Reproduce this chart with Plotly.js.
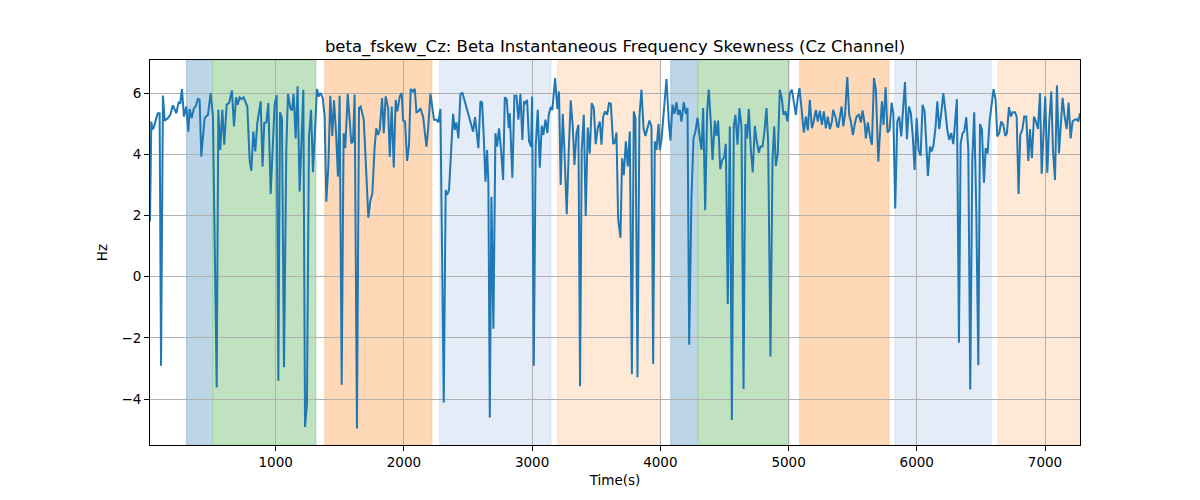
<!DOCTYPE html>
<html>
<head>
<meta charset="utf-8">
<script src="https://cdn.plot.ly/plotly-3.0.1.min.js"></script>
<style>
  html, body { margin: 0; padding: 0; background: #fff; }
  #chart { width: 1200px; height: 500px; }
</style>
</head>
<body>
<div id="chart"></div>
<script>
// time (s) of each sample
var timeS = [
  20, 30, 38, 48, 69, 82, 95, 106, 121, 134, 160, 178, 199, 225, 243, 256, 269, 285, 303, 319,
  329, 345, 363, 376, 394, 407, 420, 446, 472, 493, 511, 540, 553, 568, 584, 599, 618, 636, 659, 675,
  691, 704, 719, 735, 750, 779, 797, 810, 826, 841, 857, 883, 898, 911, 927, 943, 961, 979, 992, 1008,
  1021, 1034, 1049, 1065, 1083, 1096, 1114, 1127, 1140, 1156, 1171, 1187, 1216, 1229, 1244, 1260, 1276, 1291, 1307, 1322,
  1335, 1351, 1367, 1382, 1395, 1411, 1426, 1442, 1455, 1471, 1486, 1499, 1515, 1530, 1543, 1562, 1577, 1590, 1603, 1616,
  1634, 1650, 1663, 1687, 1708, 1723, 1739, 1754, 1772, 1785, 1799, 1812, 1830, 1843, 1858, 1877, 1890, 1905, 1921, 1936,
  1949, 1968, 1983, 1994, 2009, 2025, 2040, 2053, 2072, 2085, 2098, 2113, 2129, 2150, 2176, 2189, 2207, 2222, 2235, 2254,
  2269, 2285, 2311, 2326, 2337, 2352, 2365, 2384, 2397, 2410, 2425, 2441, 2456, 2472, 2488, 2503, 2521, 2540, 2555, 2571,
  2581, 2597, 2610, 2623, 2636, 2649, 2659, 2670, 2683, 2698, 2714, 2727, 2742, 2758, 2774, 2787, 2802, 2818, 2826, 2846,
  2862, 2878, 2893, 2909, 2924, 2937, 2950, 2961, 2976, 2992, 3000, 3013, 3028, 3044, 3060, 3075, 3088, 3104, 3119, 3130,
  3145, 3158, 3179, 3197, 3210, 3223, 3239, 3252, 3270, 3286, 3301, 3317, 3330, 3346, 3361, 3374, 3387, 3403, 3418, 3434,
  3450, 3465, 3481, 3496, 3512, 3528, 3541, 3554, 3569, 3585, 3600, 3614, 3632, 3645, 3658, 3671, 3689, 3702, 3715, 3731,
  3746, 3762, 3778, 3793, 3806, 3822, 3837, 3853, 3869, 3884, 3900, 3915, 3931, 3944, 3957, 3970, 3986, 3996, 4009, 4022,
  4048, 4066, 4079, 4095, 4110, 4126, 4139, 4152, 4165, 4183, 4199, 4212, 4225, 4243, 4259, 4274, 4290, 4308, 4321, 4334,
  4350, 4365, 4378, 4394, 4407, 4425, 4438, 4451, 4467, 4482, 4498, 4511, 4526, 4542, 4558, 4573, 4586, 4602, 4617, 4633,
  4649, 4664, 4677, 4690, 4706, 4721, 4737, 4750, 4768, 4781, 4797, 4812, 4828, 4841, 4859, 4875, 4888, 4901, 4916, 4932,
  4948, 4961, 4976, 4992, 5010, 5026, 5041, 5057, 5072, 5085, 5101, 5119, 5135, 5150, 5166, 5182, 5197, 5213, 5228, 5244,
  5260, 5275, 5291, 5306, 5322, 5338, 5348, 5369, 5379, 5388, 5401, 5414, 5427, 5440, 5458, 5473, 5486, 5502, 5518, 5531,
  5549, 5564, 5577, 5593, 5603, 5619, 5635, 5650, 5666, 5681, 5700, 5715, 5728, 5741, 5757, 5772, 5788, 5804, 5817, 5832,
  5848, 5863, 5879, 5892, 5908, 5923, 5939, 5954, 5970, 5983, 5999, 6014, 6030, 6045, 6061, 6074, 6087, 6103, 6116, 6131,
  6147, 6160, 6175, 6191, 6207, 6222, 6238, 6253, 6269, 6285, 6298, 6313, 6329, 6342, 6357, 6370, 6386, 6402, 6417, 6433,
  6448, 6464, 6480, 6493, 6508, 6524, 6537, 6552, 6568, 6584, 6599, 6615, 6628, 6643, 6659, 6675, 6690, 6703, 6719, 6734,
  6747, 6766, 6779, 6794, 6807, 6823, 6838, 6854, 6870, 6883, 6898, 6914, 6929, 6945, 6961, 6974, 6989, 7002, 7018, 7033,
  7049, 7062, 7078, 7093, 7109, 7124, 7137, 7153, 7169, 7184, 7200, 7215, 7231, 7247, 7260, 7273
];

// beta instantaneous frequency skewness (Hz)
var fskewHz = [
  1.80, 5.07, 4.82, 4.85, 5.18, 5.34, 5.34, -2.91, 5.92, 5.10, 5.18, 5.29, 5.60, 5.34, 5.69, 5.67, 6.13, 5.23, 5.56, 4.74,
  5.48, 5.18, 5.51, 5.56, 5.81, 5.78, 3.92, 5.18, 5.29, 6.00, 5.23, -3.62, 5.45, 4.14, 5.45, 4.31, 5.62, 5.67, 6.08, 4.91,
  5.86, 5.62, 5.86, 5.80, 5.86, 5.56, 3.81, 3.46, 4.74, 4.09, 5.02, 5.73, 3.60, 5.02, 5.04, 5.67, 2.70, 4.58, 5.62, 5.93,
  -3.40, 5.37, 5.18, -2.96, 4.14, 5.97, 5.51, 5.43, 5.97, 4.52, 6.22, 2.78, 6.11, -4.91, -4.16, 4.58, 5.45, 3.41, 4.69, 6.13,
  5.89, 6.00, 5.84, 5.23, 2.45, 3.60, 5.91, 4.60, 5.76, 4.69, 3.27, 5.91, -3.53, 4.69, 4.20, 5.97, 5.13, 4.36, 4.42, 5.95,
  -4.96, 5.51, 5.56, 5.13, 3.27, 1.93, 2.50, 2.72, 4.25, 4.85, 4.63, 4.80, 5.84, 4.69, 5.89, 5.51, 3.92, 5.56, 3.57, 5.78,
  5.40, 5.89, 6.00, 5.10, 5.07, 3.78, 4.31, 6.13, 6.05, 6.14, 5.37, 5.40, 5.50, 5.23, 4.25, 4.80, 5.98, 5.45, 5.13, 5.13,
  5.04, 5.48, -4.11, 2.83, 2.67, 2.83, 4.03, 5.32, 4.80, 5.04, 4.52, 5.95, 6.02, 5.78, 5.45, 5.29, 5.02, 4.74, 5.21, 4.69,
  4.20, 5.73, 5.69, 4.58, 3.10, 4.14, 3.05, -4.60, 2.61, -1.70, 4.69, 4.25, 4.85, 4.14, 3.16, 5.86, 5.80, 4.85, 5.34, 3.23,
  5.91, 5.91, 5.13, 5.97, 4.47, 5.73, 5.67, 5.78, 4.42, 4.25, 5.89, -2.91, 4.25, 5.45, 3.56, 4.93, 4.63, 5.13, 4.69, 5.29,
  5.54, 5.45, 6.49, 5.48, 6.05, 3.00, 5.32, 4.14, 2.04, 4.14, 5.76, 4.91, 3.65, 4.69, 4.96, -3.58, 4.14, 5.29, 1.98, 4.87,
  4.03, 5.67, 5.51, 4.33, 4.85, 5.07, 4.31, 5.23, 5.40, 5.29, 5.67, 5.65, 4.34, 4.38, 4.71, 1.90, 1.27, 3.87, 3.32, 4.42,
  3.60, 4.74, -3.18, 5.40, 5.18, -3.29, 5.23, 6.11, 4.85, 4.60, 4.85, 5.10, 4.91, -2.85, 4.42, 4.14, 4.99, 4.14, 4.47, 5.18,
  6.46, 5.07, 4.45, 5.62, 5.32, 5.70, 5.29, 5.45, 5.07, 5.70, 5.32, 5.51, -2.22, 2.61, 4.52, 4.74, 5.20, 4.52, 4.14, 5.51,
  2.17, 5.40, 6.11, 5.02, 3.81, 5.10, 4.60, 5.10, 3.51, 3.81, 3.90, 4.34, -0.89, 4.91, -4.68, 4.91, 5.29, 4.31, 5.51, 4.91,
  -3.67, 4.99, 4.52, 5.48, 4.14, 3.41, 4.93, 4.47, 4.05, 4.25, 4.25, 4.74, 5.51, 4.36, -2.61, 3.81, 4.91, 3.62, 4.03, 6.11,
  5.80, 5.29, 5.40, 5.07, 6.00, 6.11, 5.73, 5.29, 5.84, 6.16, 5.51, 4.71, 5.23, 4.78, 5.78, 4.85, 5.09, 5.45, 5.07, 5.42,
  4.96, 5.40, 4.85, 5.23, 4.82, 5.07, 5.45, 5.18, 4.91, 4.89, 5.23, 5.56, 4.91, 5.29, 6.52, 5.29, 5.07, 4.63, 5.02, 5.23,
  5.29, 5.04, 5.43, 5.02, 4.52, 5.04, 4.58, 4.31, 6.49, 6.11, 3.76, 4.69, 5.73, 4.96, 6.19, 4.71, 4.80, 5.69, 5.34, 2.23,
  5.07, 5.23, 4.58, 5.40, 6.36, 4.49, 5.56, 5.34, 4.52, 3.49, 5.18, 4.14, 3.95, 5.62, 5.40, 4.36, 3.29, 4.25, 4.09, 4.31,
  4.91, 5.73, 4.82, 5.34, 6.00, 5.45, 4.80, 4.47, 4.69, 4.33, 5.13, 5.80, -2.16, 4.36, 4.69, 4.74, 5.21, 4.14, -3.69, 3.81,
  5.37, 2.17, -2.89, 4.99, 4.80, 3.07, 4.20, 4.03, 5.09, 5.62, 6.13, 5.78, 4.58, 4.69, 5.07, 4.96, 4.60, 4.69, 5.54, 5.23,
  5.37, 5.37, 5.23, 2.70, 4.63, 4.80, 5.23, 5.23, 3.78, 4.82, 3.87, 5.23, 5.07, 4.83, 6.00, 3.36, 4.96, 5.89, 3.40, 5.04,
  6.05, 4.14, 3.16, 6.25, 4.03, 4.96, 5.84, 5.23, 4.82, 5.69, 4.52, 5.07, 5.13, 5.15, 5.07, 5.34
];

// shaded segments: start, end and kind
var segStart = [306, 509, 1384, 2280, 3200, 4082, 4293, 5088, 5830, 6634];
var segEnd   = [509, 1313, 2218, 3146, 3996, 4293, 5003, 5782, 6580, 7273];
var segKind  = ['blue', 'green', 'orange', 'lightblue', 'peach',
                'blue', 'green', 'orange', 'lightblue', 'peach'];

var yTicks = [-4, -2, 0, 2, 4, 6];
var xTicks = [1000, 2000, 3000, 4000, 5000, 6000, 7000];

var fills = {
  blue:      {fill: 'rgb(188,214,232)', edge: 'rgb(160,196,222)'},
  green:     {fill: 'rgb(192,226,192)', edge: 'rgb(160,210,160)'},
  orange:    {fill: 'rgb(255,216,183)', edge: 'rgb(255,200,155)'},
  lightblue: {fill: 'rgb(228,236,247)', edge: 'rgb(214,226,243)'},
  peach:     {fill: 'rgb(255,233,214)', edge: 'rgb(255,222,195)'}
};

var shapes = [];
for (var i = 0; i < segStart.length; i++) {
  var f = fills[segKind[i]];
  shapes.push({
    type: 'rect', xref: 'x', yref: 'paper',
    x0: segStart[i], x1: segEnd[i], y0: 0, y1: 1,
    fillcolor: f.fill,
    line: {color: f.edge, width: 1},
    layer: 'below'
  });
}

var trace = {
  x: timeS,
  y: fskewHz,
  type: 'scatter',
  mode: 'lines',
  line: {color: '#1f77b4', width: 2},
  hoverinfo: 'x+y'
};

var axisBase = {
  showline: true, mirror: true, linecolor: '#000', linewidth: 1,
  ticks: 'outside', ticklen: 5, tickwidth: 1, tickcolor: '#000',
  showgrid: true, gridcolor: '#b0b0b0', gridwidth: 1,
  zeroline: false,
  tickfont: {family: 'DejaVu Sans', size: 13.5, color: '#000'}
};

var layout = {
  width: 1200, height: 500,
  margin: {l: 150, r: 120, t: 60, b: 55},
  paper_bgcolor: '#fff', plot_bgcolor: '#fff',
  showlegend: false,
  font: {family: 'DejaVu Sans', color: '#000'},
  title: {
    text: 'beta_fskew_Cz: Beta Instantaneous Frequency Skewness (Cz Channel)',
    font: {family: 'DejaVu Sans', size: 16.5, color: '#000'},
    x: 0.5125, xanchor: 'center', y: 0.908, yanchor: 'middle'
  },
  xaxis: Object.assign({}, axisBase, {
    range: [20, 7273],
    tickvals: xTicks,
    title: {text: 'Time(s)', font: {family: 'DejaVu Sans', size: 13.5}, standoff: 6}
  }),
  yaxis: Object.assign({}, axisBase, {
    range: [-5.5, 7.08],
    tickvals: yTicks,
    title: {text: 'Hz', font: {family: 'DejaVu Sans', size: 13.5}, standoff: 10}
  }),
  shapes: shapes
};

Plotly.newPlot('chart', [trace], layout, {displayModeBar: false, staticPlot: true});
</script>
</body>
</html>
